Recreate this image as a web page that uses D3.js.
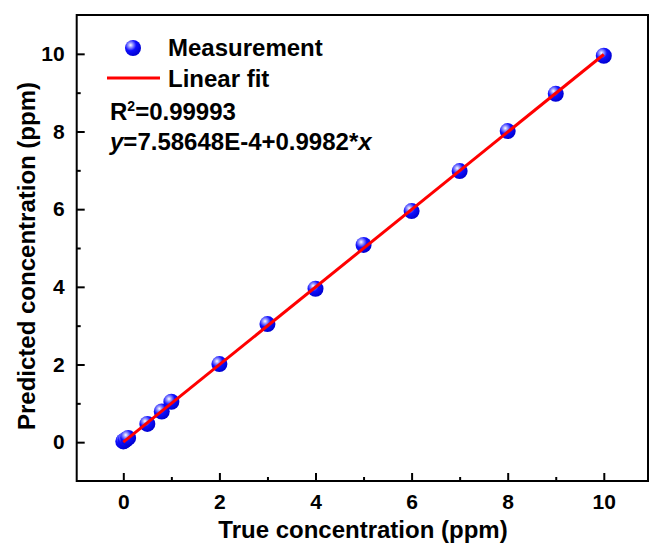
<!DOCTYPE html>
<meta charset="utf-8">
<head>
<script src="https://d3js.org/d3.v7.min.js"></script>
<style>
  body { margin: 0; background: #fff; }
  text { font-family: Arial, "Liberation Sans", sans-serif; font-weight: bold; fill: #000; }
</style>
</head>
<body>
<svg id="chart" width="651" height="546"></svg>
<script>
// measured points (true, predicted)
var trueConc = [0, 0.01, 0.05, 0.1, 0.5, 0.8, 1, 2, 3, 4, 5, 6, 7, 8, 9, 10];
var predConc = [0.02, 0.03, 0.06, 0.11, 0.47, 0.79, 1.04, 2.01, 3.04, 3.95, 5.08, 5.95, 6.98, 8.01, 8.97, 9.95];
// fit y = a + b*x
var fitA = 7.58648E-4, fitB = 0.9982;
var fitRange = [0, 10];
var majorTicks = [0, 2, 4, 6, 8, 10];
var minorTicks = [1, 3, 5, 7, 9];

var svg = d3.select("#chart");
var defs = svg.append("defs");
var grad = defs.append("radialGradient").attr("id", "ball")
    .attr("cx", "35%").attr("cy", "32%").attr("r", "70%");
grad.append("stop").attr("offset", "0%").attr("stop-color", "#ffffff");
grad.append("stop").attr("offset", "20%").attr("stop-color", "#9a9aff");
grad.append("stop").attr("offset", "50%").attr("stop-color", "#1010ff");
grad.append("stop").attr("offset", "100%").attr("stop-color", "#0000d0");

var x = d3.scaleLinear().domain([-0.97, 10.92]).range([76.7, 648]);
var y = d3.scaleLinear().domain([-1, 11]).range([481, 15]);

// frame
svg.append("rect")
    .attr("x", x.range()[0]).attr("y", y.range()[1])
    .attr("width", x.range()[1] - x.range()[0])
    .attr("height", y.range()[0] - y.range()[1])
    .attr("fill", "none").attr("stroke", "#000").attr("stroke-width", 2);

// bottom axis, ticks inward
var gx = svg.append("g").attr("transform", "translate(0," + y.range()[0] + ")");
gx.call(d3.axisBottom(x).tickValues(majorTicks).tickSizeInner(-8).tickSizeOuter(0).tickPadding(13));
gx.append("g").call(d3.axisBottom(x).tickValues(minorTicks).tickSize(-4).tickFormat(""));
// left axis
var gy = svg.append("g").attr("transform", "translate(" + x.range()[0] + ",0)");
gy.call(d3.axisLeft(y).tickValues(majorTicks).tickSizeInner(-8).tickSizeOuter(0).tickPadding(12));
gy.append("g").call(d3.axisLeft(y).tickValues(minorTicks).tickSize(-4).tickFormat(""));

svg.selectAll(".domain").remove();
svg.selectAll(".tick line").attr("stroke", "#000").attr("stroke-width", 2);
svg.selectAll(".tick text").style("font-size", "21px").style("font-family", "Arial, 'Liberation Sans', sans-serif").style("font-weight", "bold").attr("fill", "#000");

// axis titles
svg.append("text").attr("x", 363).attr("y", 538).attr("text-anchor", "middle")
    .style("font-size", "24px").text("True concentration (ppm)");
svg.append("text").attr("transform", "translate(35,256) rotate(-90)").attr("text-anchor", "middle")
    .style("font-size", "24px").text("Predicted concentration (ppm)");

// points
svg.append("g").selectAll("circle")
    .data(trueConc.map(function(d, i) { return [d, predConc[i]]; }))
    .enter().append("circle")
    .attr("cx", function(d) { return x(d[0]); })
    .attr("cy", function(d) { return y(d[1]); })
    .attr("r", 8)
    .attr("fill", "url(#ball)");

// fit line
svg.append("path")
    .datum(fitRange)
    .attr("d", d3.line().x(function(d) { return x(d); }).y(function(d) { return y(fitA + fitB * d); }))
    .attr("stroke", "#ff0000").attr("stroke-width", 3).attr("fill", "none");

// legend
svg.append("circle").attr("cx", 133).attr("cy", 48).attr("r", 8).attr("fill", "url(#ball)");
svg.append("text").attr("x", 168).attr("y", 56).style("font-size", "24px").text("Measurement");
svg.append("line").attr("x1", 107).attr("x2", 160).attr("y1", 78).attr("y2", 78)
    .attr("stroke", "#ff0000").attr("stroke-width", 3);
svg.append("text").attr("x", 168).attr("y", 87).style("font-size", "24px").text("Linear fit");

var r2 = svg.append("text").attr("x", 110).attr("y", 120).style("font-size", "24px");
r2.append("tspan").text("R");
r2.append("tspan").attr("dy", -9).style("font-size", "14px").text("2");
r2.append("tspan").attr("dy", 9).text("=0.99993");

var eq = svg.append("text").attr("x", 110).attr("y", 150).style("font-size", "24px");
eq.append("tspan").style("font-style", "italic").text("y");
eq.append("tspan").text("=7.58648E-4+0.9982*");
eq.append("tspan").style("font-style", "italic").text("x");
</script>
</body>
